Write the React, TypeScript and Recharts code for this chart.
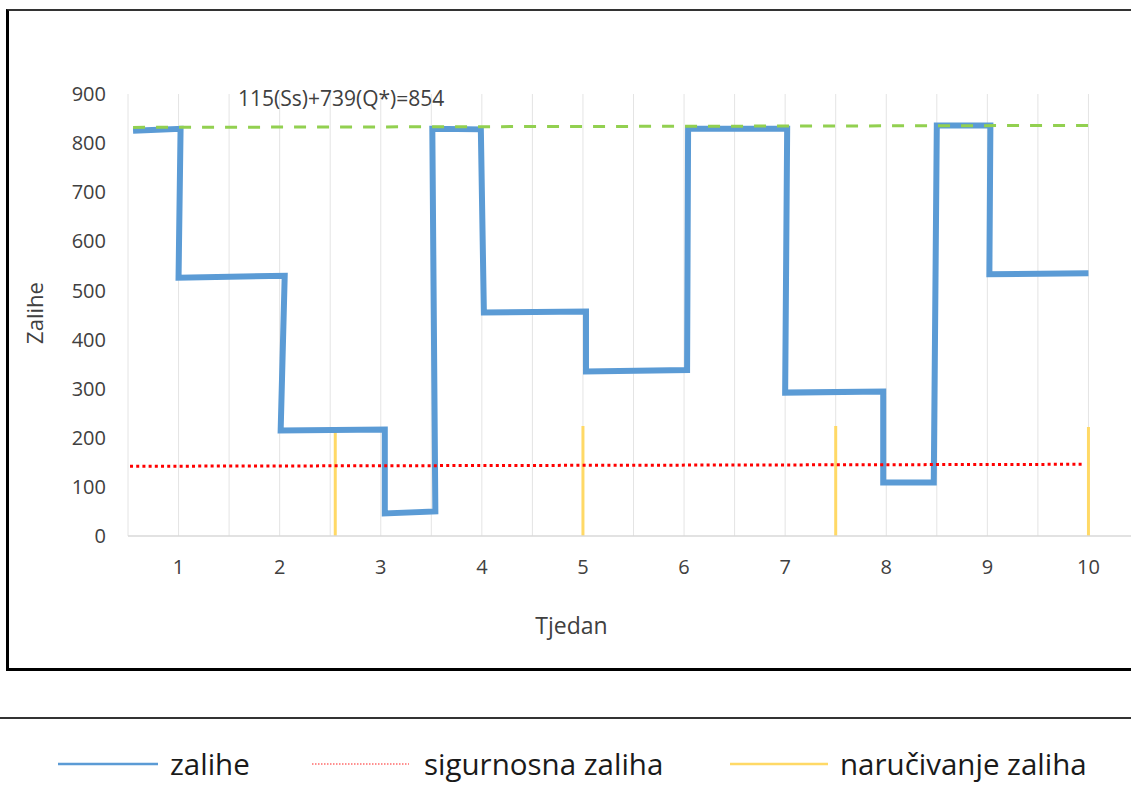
import React from 'react';
import { ComposedChart, Line, XAxis, YAxis, CartesianGrid } from 'recharts';

// ---- data ----
const weekTicks = [0.5, 1, 1.5, 2, 2.5, 3, 3.5, 4, 4.5, 5, 5.5, 6, 6.5, 7, 7.5, 8, 8.5, 9, 9.5, 10];
const stockTicks = [0, 100, 200, 300, 400, 500, 600, 700, 800, 900];

const stockX = [0.55, 1.02, 1.0, 2.05, 2.01, 3.04, 3.04, 3.54, 3.51, 3.99, 4.02, 5.03, 5.03, 6.03, 6.04, 7.02, 7.0, 7.97, 7.97, 8.47, 8.5, 9.03, 9.02, 10.0];
const stockY = [825, 829, 526, 530, 215, 217, 46, 50, 829, 828, 455, 457, 335, 338, 829, 829, 292, 294, 109, 109, 836, 836, 533, 535];

const safetyX = [0.52, 9.95];
const safetyY = [142, 146];

const maxX = [0.55, 10.0];
const maxY = [832, 836];

const orderWeeks = [2.55, 5.0, 7.5, 10.0];
const orderTop = [215, 224, 224, 222];

const legendLabels = ['zalihe', 'sigurnosna zaliha', 'naručivanje zaliha'];
const annotationText = '115(Ss)+739(Q*)=854';
const xTitle = 'Tjedan';
const yTitle = 'Zalihe';

// ---- built series ----
const stockData = stockX.map((x, i) => ({ x, y: stockY[i] }));
const safetyData = safetyX.map((x, i) => ({ x, y: safetyY[i] }));
const maxData = maxX.map((x, i) => ({ x, y: maxY[i] }));
const orderData = orderWeeks.map((w, i) => [
  { x: w, y: 0 },
  { x: w, y: orderTop[i] },
]);

const FONT = '"Open Sans", "DejaVu Sans", sans-serif';
const TEXT = '#404040';

export default function App() {
  return (
    <div
      style={{
        position: 'fixed',
        left: 0,
        top: 0,
        width: 1131,
        height: 795,
        overflow: 'hidden',
        background: '#fff',
        fontFamily: FONT,
      }}
    >
      {/* chart frame */}
      <div
        style={{
          position: 'absolute',
          left: 6,
          top: 9,
          width: 1300,
          height: 662,
          boxSizing: 'border-box',
          borderLeft: '3px solid #000',
          borderTop: '2px solid #333',
          borderBottom: '3px solid #000',
        }}
      />
      {/* legend frame top line */}
      <div
        style={{
          position: 'absolute',
          left: 0,
          top: 717,
          width: 1131,
          height: 2,
          background: '#333',
        }}
      />
      <div style={{ position: 'absolute', left: 0, top: 0 }}>
        <ComposedChart
          width={1200}
          height={680}
          margin={{ top: 94, right: 61, bottom: 0, left: 0 }}
        >
          <CartesianGrid horizontal={false} vertical stroke="#e4e4e4" strokeWidth={1} />
          <XAxis
            type="number"
            dataKey="x"
            domain={[0.5, 10.5]}
            ticks={weekTicks}
            interval={0}
            allowDataOverflow
            height={144}
            tickLine={false}
            tickSize={0}
            tickMargin={24}
            axisLine={{ stroke: '#d9d9d9', strokeWidth: 1.5 }}
            tickFormatter={(v: number) => (Number.isInteger(v) ? String(v) : '')}
            tick={{ fill: TEXT, fontSize: 20, fontFamily: FONT }}
          />
          <YAxis
            type="number"
            domain={[0, 900]}
            ticks={stockTicks}
            interval={0}
            width={128}
            tickLine={false}
            tickSize={0}
            tickMargin={22}
            axisLine={false}
            tick={{ fill: TEXT, fontSize: 20, fontFamily: FONT }}
          />
          {orderData.map((d, i) => (
            <Line
              key={'o' + i}
              data={d}
              dataKey="y"
              type="linear"
              stroke="#ffd966"
              strokeWidth={3}
              dot={false}
              activeDot={false}
              isAnimationActive={false}
            />
          ))}
          <Line
            data={stockData}
            dataKey="y"
            type="linear"
            stroke="#5b9bd5"
            strokeWidth={6}
            strokeLinejoin="miter"
            dot={false}
            activeDot={false}
            isAnimationActive={false}
          />
          <Line
            data={safetyData}
            dataKey="y"
            type="linear"
            stroke="#ff0000"
            strokeWidth={3}
            strokeDasharray="3 3.2"
            dot={false}
            activeDot={false}
            isAnimationActive={false}
          />
          <Line
            data={maxData}
            dataKey="y"
            type="linear"
            stroke="#92d050"
            strokeWidth={3}
            strokeDasharray="12 11"
            dot={false}
            activeDot={false}
            isAnimationActive={false}
          />
        </ComposedChart>
      </div>
      {/* texts and legend */}
      <svg
        width={1131}
        height={795}
        style={{ position: 'absolute', left: 0, top: 0, pointerEvents: 'none' }}
      >
        <text x={238} y={106} fontSize={21} fill={TEXT} fontFamily={FONT}>
          {annotationText}
        </text>
        <text x={571.5} y={634} fontSize={23} fill={TEXT} fontFamily={FONT} textAnchor="middle">
          {xTitle}
        </text>
        <text
          x={0}
          y={0}
          fontSize={22}
          fill={TEXT}
          fontFamily={FONT}
          textAnchor="middle"
          transform="translate(43,313) rotate(-90)"
        >
          {yTitle}
        </text>
        {/* legend */}
        <line x1={58} y1={764} x2={158} y2={764} stroke="#5b9bd5" strokeWidth={2.5} />
        <text x={170} y={775} fontSize={29.5} fill="#1a1a1a" fontFamily={FONT}>
          {legendLabels[0]}
        </text>
        <line
          x1={312}
          y1={764}
          x2={409}
          y2={764}
          stroke="#ff6b6b"
          strokeWidth={1.5}
          strokeDasharray="1.5 1.5"
        />
        <text x={424} y={775} fontSize={29.5} fill="#1a1a1a" fontFamily={FONT}>
          {legendLabels[1]}
        </text>
        <line x1={730} y1={764} x2={828} y2={764} stroke="#ffd966" strokeWidth={2.5} />
        <text x={840} y={775} fontSize={29.5} fill="#1a1a1a" fontFamily={FONT}>
          {legendLabels[2]}
        </text>
      </svg>
    </div>
  );
}
